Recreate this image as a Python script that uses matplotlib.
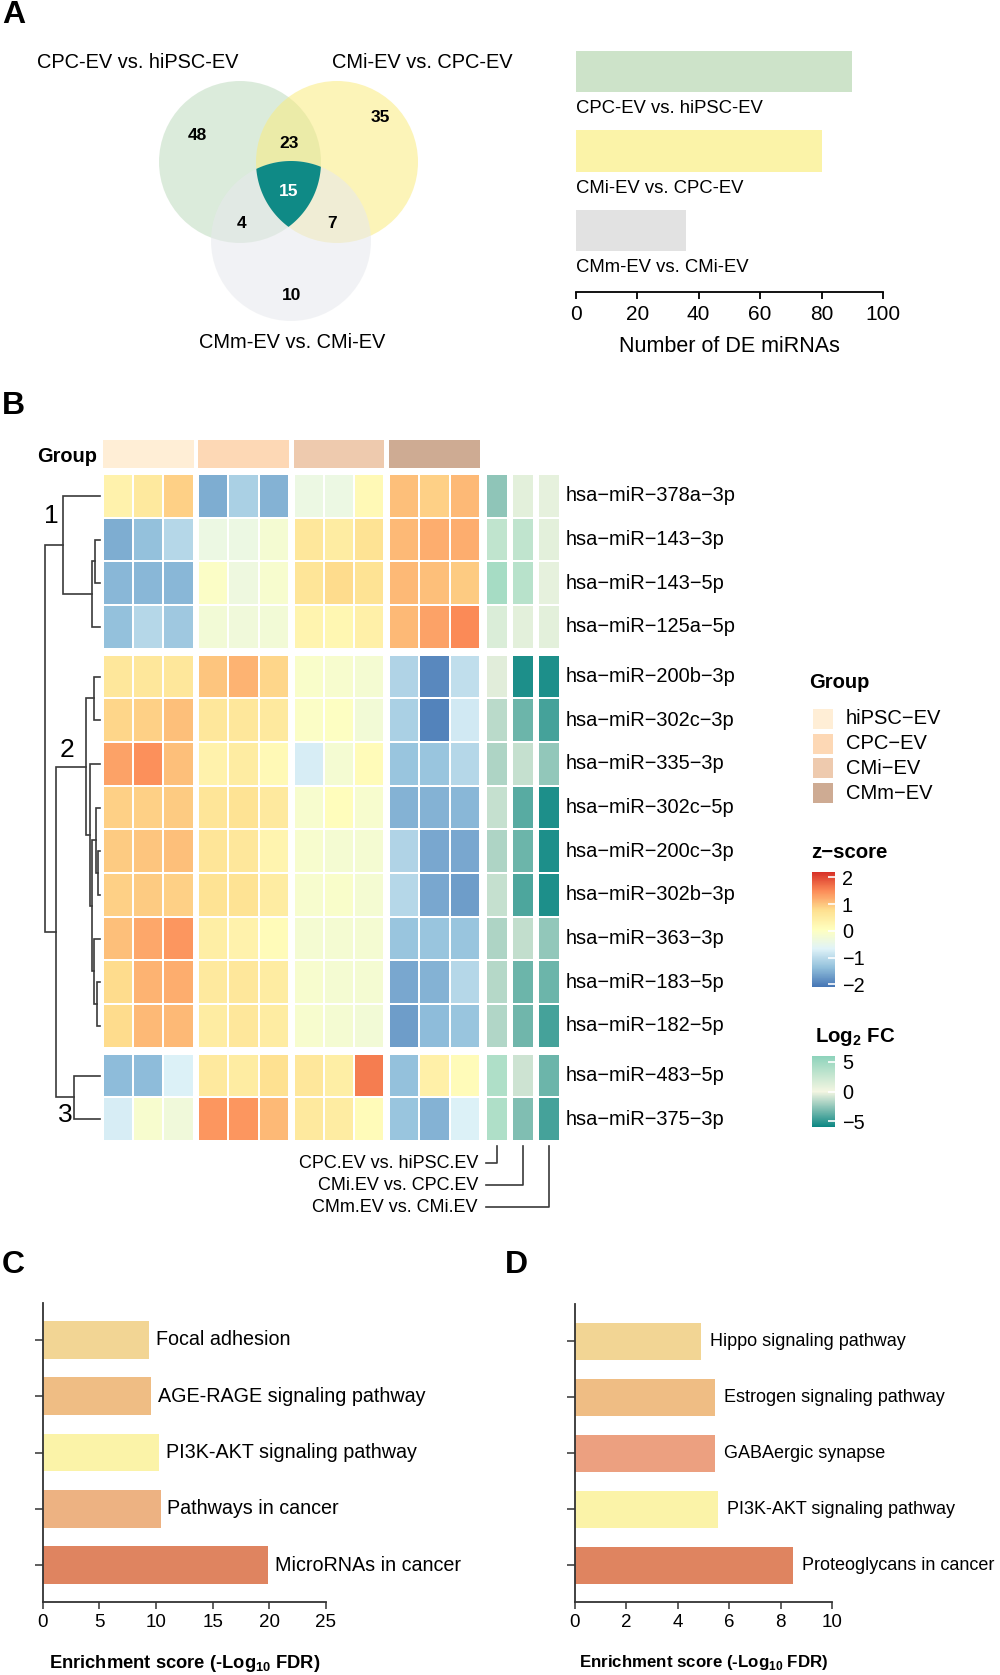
import numpy as np
import matplotlib
matplotlib.use('Agg')
import matplotlib.pyplot as plt
from matplotlib.colors import LinearSegmentedColormap, Normalize
from matplotlib.patches import Circle, Polygon, Rectangle
from matplotlib.cm import ScalarMappable

plt.rcParams['font.family'] = ['Liberation Sans', 'DejaVu Sans']
plt.rcParams['mathtext.fontset'] = 'custom'
plt.rcParams['mathtext.rm'] = 'Liberation Sans'
plt.rcParams['mathtext.bf'] = 'Liberation Sans:bold'

M = '\u2212'

# ---- data ----
venn_sets = ['CPC-EV vs. hiPSC-EV', 'CMi-EV vs. CPC-EV', 'CMm-EV vs. CMi-EV']
venn_regions = ['100', '010', '001', '110', '101', '011', '111']
venn_counts = [48, 35, 10, 23, 4, 7, 15]
de_counts = [90, 80, 36]

mirnas = ['378a-3p', '143-3p', '143-5p', '125a-5p', '200b-3p', '302c-3p', '335-3p',
          '302c-5p', '200c-3p', '302b-3p', '363-3p', '183-5p', '182-5p', '483-5p', '375-3p']
groups = ['hiPSC' + M + 'EV', 'CPC' + M + 'EV', 'CMi' + M + 'EV', 'CMm' + M + 'EV']
cluster_sizes = [4, 9, 2]

zscore = np.array([
    [0.35, 0.55, 0.9, -1.55, -1.15, -1.5, -0.4, -0.4, 0.2, 1.05, 0.9, 1.1],
    [-1.55, -1.35, -1.05, -0.4, -0.4, -0.2, 0.6, 0.5, 0.7, 1.1, 1.2, 1.2],
    [-1.45, -1.45, -1.45, -0.05, -0.35, -0.15, 0.65, 0.8, 0.7, 1.1, 1.05, 0.95],
    [-1.35, -1.05, -1.25, -0.25, -0.3, -0.25, 0.3, 0.25, 0.4, 1.1, 1.3, 1.5],
    [0.6, 0.6, 0.6, 1.0, 1.15, 0.85, -0.1, -0.15, -0.2, -1.1, -1.9, -0.95],
    [0.85, 0.9, 1.05, 0.6, 0.6, 0.55, -0.05, 0.0, -0.25, -1.15, -1.95, -0.8],
    [1.3, 1.45, 1.05, 0.35, 0.5, 0.2, -0.75, -0.2, 0.15, -1.3, -1.3, -1.05],
    [0.9, 0.9, 0.95, 0.65, 0.7, 0.55, -0.15, 0.1, -0.15, -1.5, -1.5, -1.45],
    [0.95, 1.0, 1.05, 0.65, 0.6, 0.3, -0.15, -0.2, -0.2, -1.1, -1.6, -1.6],
    [0.9, 0.95, 0.9, 0.7, 0.7, 0.5, -0.15, -0.1, -0.2, -1.05, -1.6, -1.7],
    [1.05, 1.25, 1.4, 0.45, 0.35, 0.15, -0.2, -0.2, -0.2, -1.3, -1.3, -1.3],
    [0.8, 1.15, 1.2, 0.55, 0.6, 0.5, -0.15, -0.2, -0.2, -1.6, -1.5, -1.05],
    [0.8, 1.1, 1.1, 0.5, 0.6, 0.5, -0.15, -0.2, -0.25, -1.7, -1.4, -1.3],
    [-1.4, -1.4, -0.7, 0.55, 0.5, 0.75, 0.6, 0.45, 1.6, -1.35, 0.4, 0.15],
    [-0.75, -0.15, -0.3, 1.4, 1.4, 1.1, 0.55, 0.5, 0.15, -1.3, -1.5, -0.7],
])

log2fc = np.array([
    [-2.6, 1.0, 0.8], [3.0, 3.0, 1.0], [4.5, 3.5, 0.8], [1.5, 1.0, 1.0],
    [-0.5, -5.5, -5.5], [-1.5, -3.5, -4.5], [-1.8, -1.2, -2.5], [-1.2, -4.0, -5.5],
    [-1.8, -3.5, -5.5], [-1.2, -4.3, -5.5], [-1.8, -1.3, -2.5], [-1.6, -3.5, -3.5],
    [-1.7, -3.4, -4.5], [4.0, -1.0, -3.5], [4.0, -3.0, -4.5],
])
fc_labels = ['CPC.EV vs. hiPSC.EV', 'CMi.EV vs. CPC.EV', 'CMm.EV vs. CMi.EV']

# row dendrogram: (child a, child b, height); leaves are 0..14, new nodes from 15
merges = [(1, 2, 5.3), (3, 15, 8.4), (0, 16, 37.3), (4, 5, 6.4), (8, 9, 2.5),
          (7, 19, 4.3), (11, 12, 3.5), (10, 21, 6.5), (20, 22, 7.7), (6, 23, 9.8),
          (18, 24, 13.9), (13, 14, 25.6), (25, 26, 44.2), (17, 27, 55.2)]
cluster_names = ['1', '2', '3']

terms_c = ['Focal adhesion', 'AGE-RAGE signaling pathway', 'PI3K-AKT signaling pathway',
           'Pathways in cancer', 'MicroRNAs in cancer']
scores_c = [9.4, 9.6, 10.3, 10.4, 19.9]
terms_d = ['Hippo signaling pathway', 'Estrogen signaling pathway', 'GABAergic synapse',
           'PI3K-AKT signaling pathway', 'Proteoglycans in cancer']
scores_d = [4.9, 5.45, 5.45, 5.55, 8.5]

# ---- figure ----
W, H = 1000, 1675
fig = plt.figure(figsize=(10, 16.75), dpi=100)


def px_axes(x0, y0, x1, y1):
    return fig.add_axes([x0 / W, 1 - y1 / H, (x1 - x0) / W, (y1 - y0) / H])


ov = px_axes(0, 0, W, H)
ov.set_xlim(0, W)
ov.set_ylim(H, 0)
ov.axis('off')

for letter, (lx, ly) in zip('ABCD', [(2, 15), (2, 406), (2, 1265), (505, 1265)]):
    ov.text(lx, ly, letter, fontsize=23, fontweight='bold', va='center', ha='left')

# ---- A: venn ----
centers = [(240, 162), (337, 162), (291, 241)]
radii = [81, 81, 80]
venn_colors = ['#bfdbbf', '#faeb7e', '#e7e9ed']
for c, r, col in zip(centers, radii, venn_colors):
    ov.add_patch(Circle(c, r, fc=col, ec='none', alpha=0.55))

t = np.linspace(0, 2 * np.pi, 1440)
pts = []
for i, (c, r) in enumerate(zip(centers, radii)):
    p = np.column_stack([c[0] + r * np.cos(t), c[1] + r * np.sin(t)])
    keep = np.ones(len(p), bool)
    for j, (c2, r2) in enumerate(zip(centers, radii)):
        if j != i:
            keep &= np.hypot(p[:, 0] - c2[0], p[:, 1] - c2[1]) <= r2
    pts.append(p[keep])
pts = np.vstack(pts)
mid = pts.mean(axis=0)
pts = pts[np.argsort(np.arctan2(pts[:, 1] - mid[1], pts[:, 0] - mid[0]))]
ov.add_patch(Polygon(pts, fc='#0f8a86', ec='none'))

count_pos = {'100': (197, 135), '010': (380, 118), '001': (292, 296), '110': (289, 144),
             '101': (242, 223), '011': (332, 223), '111': (289, 191)}
for reg, n in zip(venn_regions, venn_counts):
    ov.text(*count_pos[reg], str(n), ha='center', va='center', fontsize=12.5,
            fontweight='bold', color='white' if reg == '111' else 'black')

for name, pos in zip(venn_sets, [(138, 62), (422, 62), (292, 343)]):
    ov.text(*pos, name, ha='center', va='center', fontsize=14.4)

# ---- A: bars ----
bar_colors = ['#cde3c9', '#fbf3a8', '#e2e2e2']
axa = px_axes(575.7, 40, 883, 292)
axa.barh(range(3), de_counts, height=0.52, color=bar_colors)
for i, name in enumerate(venn_sets):
    axa.text(0, i + 0.47, name, va='center', ha='left', fontsize=13.3)
axa.set_xlim(0, 100)
axa.set_ylim(2.775, -0.396)
for s in ['top', 'right', 'left']:
    axa.spines[s].set_visible(False)
axa.spines['bottom'].set_linewidth(1.3)
axa.set_yticks([])
axa.set_xticks(range(0, 101, 20))
axa.tick_params(axis='x', length=5, width=1.3, labelsize=15, pad=4)
axa.set_xlabel('Number of DE miRNAs', fontsize=15.5, labelpad=9)

# ---- B: heatmap ----
HM_X0, CW, GGAP = 102.7, 30.3, 4.5
ROW_Y0, RH, CGAP = 474.0, 43.67, 6.0
FC_X0, FW, FGAP = 486.2, 21.7, 4.2

z_cmap = LinearSegmentedColormap.from_list(
    'z', ['#4575b4', '#91bfdb', '#e0f3f8', '#ffffbf', '#fee090', '#fc8d59', '#d73027'])
z_norm = Normalize(-2.1, 2.2)
fc_cmap = LinearSegmentedColormap.from_list('fc', ['#0b8682', '#f4f6e2', '#8dd3bb'])
fc_norm = Normalize(-6, 6)

row_cluster = np.repeat(np.arange(len(cluster_sizes)), cluster_sizes)
row_top = ROW_Y0 + np.arange(len(mirnas)) * RH + row_cluster * CGAP
row_mid = row_top + RH / 2
starts = np.concatenate([[0], np.cumsum(cluster_sizes)])

for k in range(len(cluster_sizes)):
    r0, r1 = starts[k], starts[k + 1]
    ye = row_top[r0] + np.arange(r1 - r0 + 1) * RH
    for g in range(len(groups)):
        xe = HM_X0 + g * (3 * CW + GGAP) + np.arange(4) * CW
        ov.pcolormesh(xe, ye, zscore[r0:r1, 3 * g:3 * g + 3], cmap=z_cmap, norm=z_norm,
                      edgecolors='white', linewidth=1.2)
    for f in range(3):
        xe = FC_X0 + f * (FW + FGAP) + np.array([0, FW])
        ov.pcolormesh(xe, ye, log2fc[r0:r1, f:f + 1], cmap=fc_cmap, norm=fc_norm,
                      edgecolors='white', linewidth=1.2)

# group annotation bar
group_colors = ['#ffeed6', '#fdd8b5', '#eecaae', '#ceab93']
for g, col in enumerate(group_colors):
    ov.add_patch(Rectangle((HM_X0 + g * (3 * CW + GGAP), 440), 3 * CW, 27.7, fc=col, ec='none'))
ov.text(97, 456, 'Group', ha='right', va='center', fontsize=14.4, fontweight='bold')

for i, name in enumerate(mirnas):
    ov.text(566, row_mid[i], 'hsa' + M + 'miR' + M + name.replace('-', M),
            va='center', ha='left', fontsize=14.4)

# dendrogram
LEAF_X = 100.0
node_y = list(row_mid)
node_x = [LEAF_X] * len(mirnas)
for a, b, h in merges:
    x = LEAF_X - h
    ov.plot([node_x[a], x, x, node_x[b]], [node_y[a], node_y[a], node_y[b], node_y[b]],
            color='#3a3a3a', lw=1.2, solid_joinstyle='miter')
    node_x.append(x)
    node_y.append((node_y[a] + node_y[b]) / 2)
for name, pos in zip(cluster_names, [(51.6, 516), (67, 750), (65.4, 1115)]):
    ov.text(*pos, name, ha='center', va='center', fontsize=19)

# comparison labels under the FC columns
for f, lab in enumerate(fc_labels):
    ly = 1163 + f * 22
    cx = FC_X0 + f * (FW + FGAP) + FW / 2
    ov.text(478, ly, lab, ha='right', va='center', fontsize=13)
    ov.plot([485.7, cx, cx], [ly, ly, 1146], color='#3a3a3a', lw=1.2)

# legends
ov.text(809, 683, 'Group', fontsize=14.5, fontweight='bold', va='center')
for g, (lab, col) in enumerate(zip(groups, group_colors)):
    y0 = 709 + g * 24.7
    ov.add_patch(Rectangle((813, y0), 20, 20, fc=col, ec='none'))
    ov.text(846, y0 + 10, lab, fontsize=14.5, va='center')

ov.text(811, 853, 'z' + M + 'score', fontsize=14.7, fontweight='bold', va='center')
cax = px_axes(811.7, 872, 835, 987)
cb = fig.colorbar(ScalarMappable(norm=z_norm, cmap=z_cmap), cax=cax, ticks=[-2, -1, 0, 1, 2])
cb.outline.set_visible(False)
cax.tick_params(direction='in', color='white', length=5, width=1.2, labelsize=14.3, pad=5)

ov.text(815, 1037, r'Log$_{\mathbf{2}}$ FC', fontsize=14.7, fontweight='bold', va='center')
cax2 = px_axes(811.7, 1056, 835, 1127)
cb2 = fig.colorbar(ScalarMappable(norm=fc_norm, cmap=fc_cmap), cax=cax2, ticks=[-5, 0, 5])
cb2.outline.set_visible(False)
cax2.tick_params(direction='in', color='white', length=5, width=1.2, labelsize=14.3, pad=5)


# ---- C and D: enrichment bars ----
def enrich(ax, terms, scores, colors, xmax, step, offset, fs, xfs):
    ax.barh(range(len(terms)), scores, height=0.67, color=colors)
    for i, (term, v) in enumerate(zip(terms, scores)):
        ax.text(v + offset, i, term, va='center', ha='left', fontsize=fs)
    ax.set_xlim(0, xmax)
    ax.set_ylim(len(terms) - 0.34, -0.66)
    ax.spines['top'].set_visible(False)
    ax.spines['right'].set_visible(False)
    for s in ['left', 'bottom']:
        ax.spines[s].set_linewidth(1.3)
        ax.spines[s].set_color('#333333')
    ax.set_yticks(range(len(terms)))
    ax.set_yticklabels([])
    ax.set_xticks(np.arange(0, xmax + 0.1, step))
    ax.tick_params(axis='y', length=6, width=1.1, color='#333333')
    ax.tick_params(axis='x', length=5, width=1.1, color='#333333', labelsize=13.5)
    ax.set_xlabel(r'Enrichment score (-Log$_{\mathbf{10}}$ FDR)', fontsize=xfs,
                  fontweight='bold', labelpad=16)


colors_c = ['#f2d594', '#efbd84', '#fbf3a8', '#edb282', '#df8460']
colors_d = ['#f2d594', '#efbd84', '#eca080', '#fbf3a8', '#df8460']
axc = px_axes(42.7, 1302.7, 326, 1602.3)
enrich(axc, terms_c, scores_c, colors_c, 25, 5, 0.6, 14.2, 13.2)
axd = px_axes(575, 1304.3, 832, 1602.3)
enrich(axd, terms_d, scores_d, colors_d, 10, 2, 0.35, 13.0, 12.2)

fig.savefig('out.png', dpi=100)
